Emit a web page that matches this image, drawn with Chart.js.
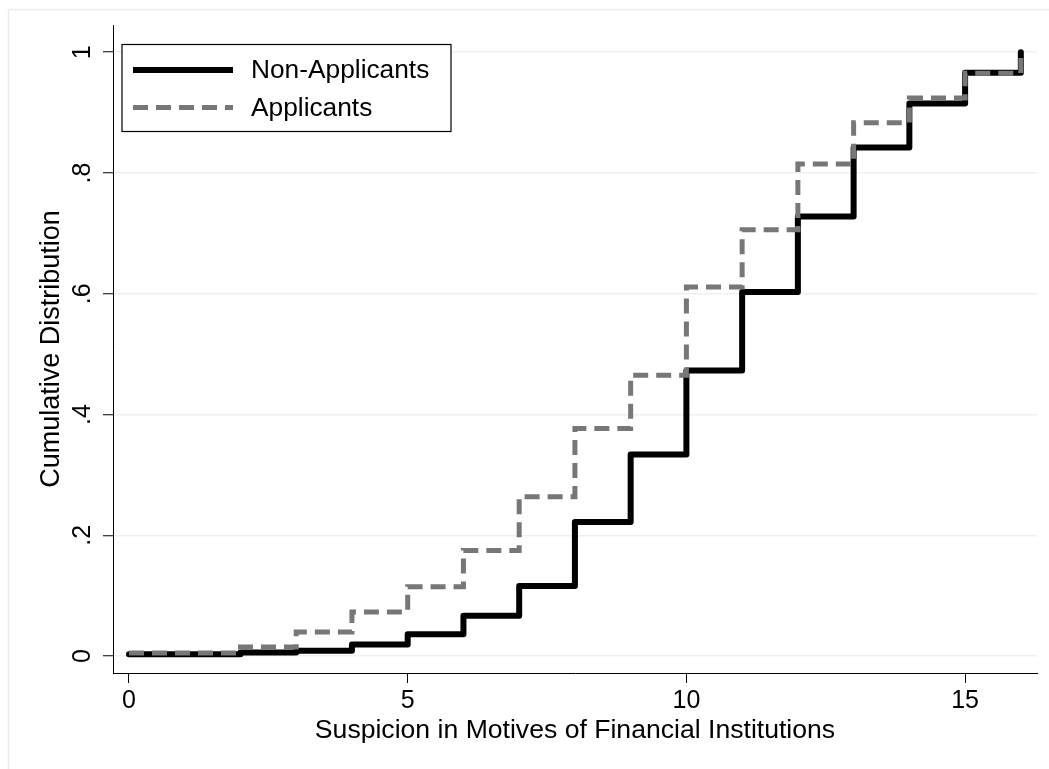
<!DOCTYPE html>
<html>
<head>
<meta charset="utf-8">
<script src="https://cdn.jsdelivr.net/npm/chart.js@4.4.0/dist/chart.umd.min.js"></script>
<style>
  html, body { margin: 0; padding: 0; background: #fff; }
  #chart_1 { display: block; }
</style>
</head>
<body>
<canvas id="chart_1" width="1049" height="769"></canvas>
<script>
// suspicion score (0-16) and the cumulative share at each score
var scores = [0, 1, 2, 3, 4, 5, 6, 7, 8, 9, 10, 11, 12, 13, 14, 15, 16];
var nonApplicants = [0.003, 0.003, 0.006, 0.009, 0.019, 0.036, 0.067, 0.116, 0.222, 0.334, 0.473, 0.603, 0.728, 0.842, 0.915, 0.966, 1.0];
var applicants = [0.005, 0.005, 0.015, 0.040, 0.073, 0.115, 0.175, 0.264, 0.377, 0.465, 0.611, 0.706, 0.815, 0.883, 0.924, 0.965, 1.0];

var xTicks = [0, 5, 10, 15];
var yTicks = [0, 0.2, 0.4, 0.6, 0.8, 1];
var yTickLabels = ['0', '.2', '.4', '.6', '.8', '1'];

var FONT = '"Liberation Sans", Arial, Helvetica, sans-serif';

function toPoints(xs, ys) {
  return xs.map(function (x, i) { return { x: x, y: ys[i] }; });
}

// light outer frame like the Stata graph region
var framePlugin = {
  id: 'frame',
  beforeDraw: function (chart) {
    var ctx = chart.ctx;
    ctx.save();
    ctx.fillStyle = '#fff';
    ctx.fillRect(0, 0, chart.width, chart.height);
    ctx.strokeStyle = '#e6eef0';
    ctx.lineWidth = 1.5;
    ctx.strokeRect(8.5, 9.5, chart.width + 20, chart.height + 20);
    ctx.restore();
  }
};

// boxed legend in the upper left of the plot
var legendBox = {
  id: 'legendBox',
  afterDatasetsDraw: function (chart) {
    var ctx = chart.ctx;
    ctx.save();
    ctx.fillStyle = '#fff';
    ctx.fillRect(122, 44.5, 329, 87);
    ctx.strokeStyle = '#000';
    ctx.lineWidth = 1.2;
    ctx.strokeRect(122, 44.5, 329, 87);
    chart.data.datasets.forEach(function (ds, i) {
      var y = 70 + i * 37.5;
      ctx.beginPath();
      ctx.setLineDash(ds.borderDash || []);
      ctx.lineCap = 'butt';
      ctx.lineWidth = ds.borderWidth;
      ctx.strokeStyle = ds.borderColor;
      ctx.moveTo(133, y);
      ctx.lineTo(233, y);
      ctx.stroke();
      ctx.setLineDash([]);
      ctx.fillStyle = '#000';
      ctx.font = '26.3px ' + FONT;
      ctx.textBaseline = 'middle';
      ctx.fillText(ds.label, 251, y + 1);
    });
    ctx.restore();
  }
};

new Chart('chart_1', {
  type: 'line',
  data: {
    datasets: [{
      label: 'Non-Applicants',
      data: toPoints(scores, nonApplicants),
      borderColor: '#000',
      borderWidth: 6,
      borderCapStyle: 'round',
      borderJoinStyle: 'round',
      stepped: 'before',
      pointRadius: 0,
      fill: false,
      order: 1
    }, {
      label: 'Applicants',
      data: toPoints(scores, applicants),
      borderColor: '#777777',
      borderWidth: 5,
      borderDash: [15, 8],
      stepped: 'before',
      pointRadius: 0,
      fill: false,
      order: 0
    }]
  },
  options: {
    responsive: false,
    animation: false,
    layout: { padding: { top: 25, right: 12, left: 0, bottom: 0 } },
    plugins: {
      legend: { display: false },
      tooltip: { enabled: false }
    },
    scales: {
      x: {
        type: 'linear',
        min: -0.287,
        max: 16.29,
        afterBuildTicks: function (s) { s.ticks = xTicks.map(function (v) { return { value: v }; }); },
        afterFit: function (s) { s.height = 96; },
        grid: { drawOnChartArea: false, drawTicks: true, tickLength: 10, tickColor: '#000', tickWidth: 1 },
        border: { color: '#000', width: 1 },
        ticks: {
          color: '#000', padding: 3, maxRotation: 0, minRotation: 0, autoSkip: false,
          font: { family: FONT, size: 25 }
        },
        title: {
          display: true,
          text: 'Suspicion in Motives of Financial Institutions',
          color: '#000',
          font: { family: FONT, size: 26.6 },
          padding: { top: 0, bottom: 22 }
        }
      },
      y: {
        type: 'linear',
        min: -0.028,
        max: 1.045,
        afterBuildTicks: function (s) { s.ticks = yTicks.map(function (v) { return { value: v }; }); },
        afterFit: function (s) { s.width = 113; },
        grid: { color: '#eaf2f3', lineWidth: 1.5, tickColor: '#000', tickWidth: 1, tickLength: 10 },
        border: { color: '#000', width: 1 },
        ticks: {
          color: '#000', padding: 9, minRotation: 90, maxRotation: 90, crossAlign: 'center',
          font: { family: FONT, size: 25 },
          callback: function (v) { return yTickLabels[yTicks.indexOf(v)]; }
        },
        title: {
          display: true,
          text: 'Cumulative Distribution',
          color: '#000',
          font: { family: FONT, size: 27 },
          padding: { top: 35, bottom: 0 }
        }
      }
    }
  },
  plugins: [framePlugin, legendBox]
});
</script>
</body>
</html>
